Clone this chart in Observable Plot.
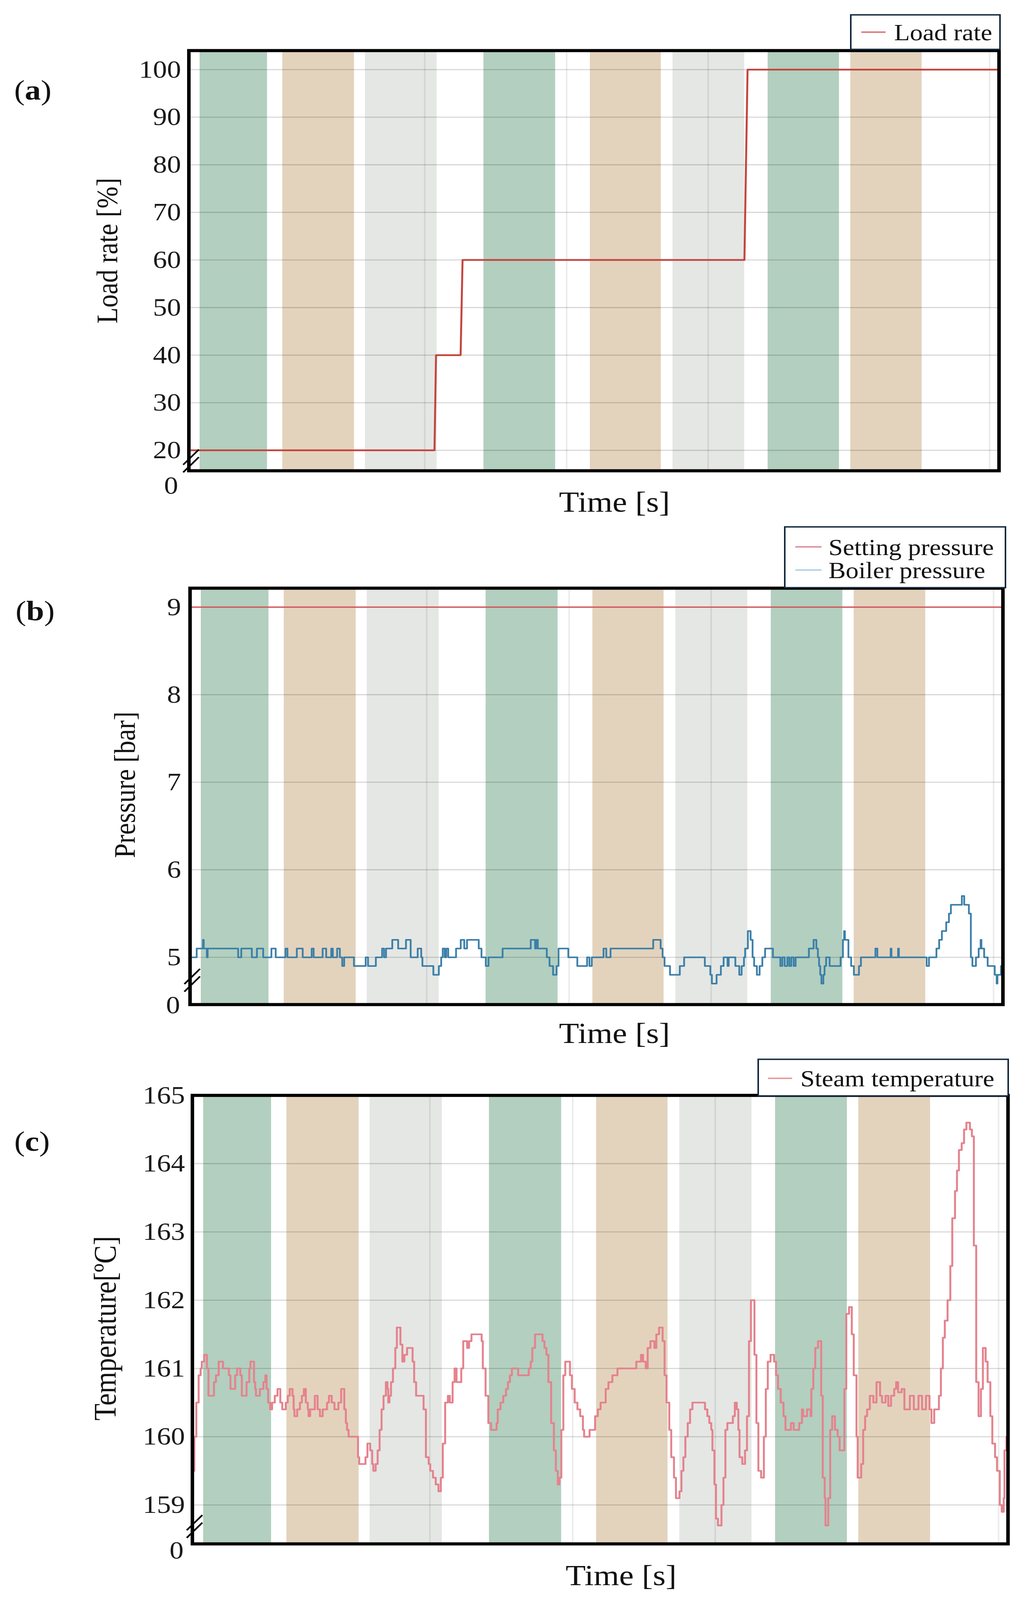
<!DOCTYPE html>
<html><head><meta charset="utf-8">
<script src="https://cdn.jsdelivr.net/npm/d3@7"></script>
<script src="https://cdn.jsdelivr.net/npm/@observablehq/plot@0.6"></script>
<style>
html,body{margin:0;background:#fff;overflow:hidden;}
#fig{width:2624px;transform-origin:0 0;}
#fig svg{display:block;}
</style>
</head><body><div id="fig"></div>
<script>
// ---------- shared time axis & shaded bands ----------
const tMax = 2078;
const bandStart = [28, 240, 452, 756, 1029, 1241, 1485, 1697];
const bandEnd   = [201, 424, 636, 940, 1211, 1425, 1668, 1880];
const bandType  = ["green", "tan", "grey", "green", "tan", "grey", "green", "tan"];
const bandColor = {green: "#b3cfbf", tan: "#e3d3bd", grey: "#e5e7e4"};
const vlineT = [605, 969, 1332, 2054];

// ---------- panel (a) load rate ----------
const loadTicks = [20, 30, 40, 50, 60, 70, 80, 90, 100];
const loadT = [0, 630, 634, 697, 702, 1425, 1433, 2078];
const loadV = [20, 20, 40, 40, 60, 60, 100, 100];

// ---------- panel (b) pressure ----------
const pressureTicks = [5, 6, 7, 8, 9];
const settingPressure = [9];
const pressureT = [0,17,33,35,43,45,123,131,158,171,187,208,219,244,249,273,288,311,316,339,348,361,365,376,383,389,394,419,449,455,475,491,496,501,517,532,552,564,582,591,594,622,636,642,646,651,655,660,680,692,701,708,738,745,756,763,799,871,882,885,889,912,919,928,937,942,967,990,1015,1021,1027,1057,1064,1075,1184,1203,1208,1213,1227,1252,1263,1316,1330,1334,1346,1357,1364,1374,1377,1394,1404,1410,1416,1419,1426,1433,1438,1442,1449,1456,1463,1470,1490,1509,1514,1520,1527,1532,1537,1543,1548,1582,1594,1601,1605,1608,1611,1614,1619,1622,1626,1635,1663,1669,1672,1674,1683,1690,1697,1710,1715,1752,1757,1791,1793,1810,1812,1883,1889,1908,1915,1922,1933,1940,1945,1973,1979,1991,1996,2000,2009,2016,2021,2023,2030,2039,2057,2062,2064,2073,2078];
const pressureV = [5.0,5.1,5.2,5.1,5.0,5.1,5.0,5.1,5.0,5.1,5.0,5.1,5.0,5.1,5.0,5.1,5.0,5.1,5.0,5.1,5.0,5.1,5.0,5.1,5.0,4.9,5.0,4.9,5.0,4.9,5.0,5.1,5.0,5.1,5.2,5.1,5.2,5.0,5.1,5.0,4.9,4.8,4.9,5.0,5.1,5.0,5.1,5.0,5.1,5.2,5.1,5.2,5.1,5.0,4.9,5.0,5.1,5.2,5.1,5.2,5.1,5.0,4.9,4.8,4.9,5.1,5.0,4.9,5.0,4.9,5.0,5.1,5.0,5.1,5.2,5.1,5.0,4.9,4.8,4.9,5.0,4.9,4.8,4.7,4.8,4.9,5.0,4.9,5.0,4.9,4.8,4.9,5.0,5.1,5.3,5.2,5.0,4.9,4.8,4.9,5.0,5.1,5.0,4.9,5.0,4.9,5.0,4.9,5.0,4.9,5.0,5.1,5.2,5.1,5.0,4.9,4.8,4.7,4.8,4.9,5.0,4.9,5.0,5.2,5.3,5.2,5.0,4.9,4.8,4.9,5.0,5.1,5.0,5.1,5.0,5.1,5.0,4.9,5.0,5.1,5.2,5.3,5.4,5.5,5.6,5.7,5.6,5.5,5.0,4.9,5.0,5.1,5.2,5.1,5.0,4.9,4.8,4.7,4.8,4.9,4.9];

// ---------- panel (c) steam temperature ----------
const tempTicks = [159, 160, 161, 162, 163, 164, 165];
const tempT = [0,5,10,16,21,24,30,37,41,55,60,67,78,93,97,109,114,122,126,138,145,148,157,160,162,172,181,186,189,193,198,203,210,217,224,229,238,243,248,255,258,260,267,274,279,284,289,294,296,300,312,319,325,332,343,348,355,362,372,379,387,391,394,398,422,425,441,446,453,458,461,467,472,477,482,487,493,497,499,502,506,511,517,521,530,535,540,547,561,565,570,589,595,602,606,613,620,627,633,638,644,651,656,663,668,673,685,690,700,705,711,737,740,747,754,761,775,778,785,792,799,804,809,814,830,857,862,866,873,892,897,902,907,914,921,926,931,935,940,945,950,962,967,974,981,988,995,998,1012,1026,1033,1040,1053,1060,1070,1083,1131,1143,1148,1155,1160,1167,1177,1182,1189,1198,1203,1208,1215,1220,1227,1232,1241,1246,1251,1256,1262,1268,1274,1306,1312,1317,1322,1325,1330,1334,1339,1348,1353,1358,1363,1377,1382,1387,1391,1394,1401,1408,1413,1418,1423,1432,1437,1442,1449,1456,1461,1466,1473,1482,1487,1492,1499,1506,1511,1525,1532,1546,1553,1556,1566,1575,1577,1582,1587,1594,1602,1606,1611,1613,1620,1625,1630,1637,1644,1649,1661,1666,1673,1680,1685,1692,1695,1704,1709,1714,1719,1726,1735,1743,1752,1757,1766,1773,1780,1788,1793,1798,1807,1814,1828,1838,1850,1859,1869,1878,1883,1890,1902,1907,1912,1917,1924,1931,1936,1943,1948,1953,1960,1966,1972,1981,1986,1991,1997,2003,2009,2014,2021,2026,2033,2038,2045,2050,2057,2062,2067,2069,2074,2078];
const tempV = [159.5,160.0,160.5,160.9,161.0,161.1,161.2,161.0,160.6,160.8,160.9,161.1,161.0,160.9,160.7,160.9,161.0,160.9,160.6,160.8,161.0,161.1,160.8,160.7,160.6,160.7,160.8,160.9,160.7,160.5,160.4,160.5,160.6,160.7,160.5,160.4,160.5,160.6,160.7,160.6,160.4,160.3,160.4,160.5,160.6,160.7,160.5,160.4,160.3,160.4,160.6,160.4,160.3,160.4,160.5,160.6,160.5,160.4,160.5,160.7,160.4,160.2,160.1,160.0,159.7,159.6,159.7,159.9,159.8,159.6,159.5,159.6,159.8,160.1,160.4,160.6,160.8,160.7,160.5,160.6,160.8,161.0,161.3,161.6,161.35,161.1,161.2,161.3,161.1,160.8,160.6,160.4,159.7,159.6,159.5,159.4,159.3,159.2,159.4,159.9,160.5,160.6,160.5,160.8,161.0,160.8,161.0,161.4,161.3,161.4,161.5,161.4,161.0,160.6,160.2,160.1,160.2,160.4,160.5,160.6,160.7,160.8,160.9,161.0,160.9,161.0,161.1,161.3,161.5,161.4,161.3,161.2,160.8,160.2,159.8,159.5,159.3,159.4,160.1,160.9,161.1,160.9,160.7,160.5,160.4,160.3,160.1,160.0,160.1,160.3,160.4,160.5,160.7,160.8,160.9,161.0,161.1,161.2,161.1,161.0,161.3,161.4,161.3,161.5,161.6,161.4,160.9,160.5,160.1,159.7,159.4,159.1,159.2,159.5,159.7,160.0,160.2,160.4,160.5,160.4,160.3,160.2,160.1,159.8,159.3,158.8,158.7,159.0,159.4,160.1,160.2,160.3,160.5,160.4,160.1,159.7,159.6,159.8,160.3,161.4,162.0,161.2,160.2,159.5,159.4,160.0,160.7,161.1,161.2,161.1,160.9,160.7,160.5,160.3,160.1,160.2,160.1,160.2,160.4,160.3,160.4,160.3,160.7,161.0,161.3,161.4,160.6,159.4,159.1,158.7,159.1,160.1,160.3,160.1,160.0,159.8,160.7,161.8,161.9,161.5,160.9,160.0,159.4,159.6,160.1,160.3,160.4,160.6,160.5,160.8,160.6,160.5,160.6,160.45,160.6,160.7,160.8,160.65,160.7,160.4,160.6,160.4,160.6,160.4,160.6,160.4,160.2,160.4,160.6,161.0,161.45,161.7,162.0,162.5,163.2,163.6,163.9,164.2,164.3,164.5,164.6,164.5,164.4,162.8,160.8,160.3,160.7,161.3,161.1,160.8,160.3,159.9,159.7,159.5,159.0,158.9,159.1,159.8,160.0,160.1];

// ---------- text ----------
const FONT = "'Liberation Serif', 'Times New Roman', serif";
const xLabel = "Time [s]";
const W = 2624, H = 4634;

function rows(ts, vs) { return ts.map((t, i) => ({t, v: vs[i]})); }

function addText(s, x, y, str, size, anchor) {
  return s.append("text").attr("x", x).attr("y", y).attr("text-anchor", anchor || "middle")
    .attr("dy", "0.35em").attr("font-size", size).attr("fill", "#111").attr("font-family", FONT).text(str);
}

function buildPanel(cfg) {
  const bands = bandStart.map((s, i) => ({start: s, end: bandEnd[i], fill: bandColor[bandType[i]]}));
  const [yLo, yHi] = cfg.yDomain;
  const svg = Plot.plot({
    width: W, height: cfg.height,
    marginLeft: cfg.mL, marginRight: cfg.mR, marginTop: cfg.mT, marginBottom: cfg.mB,
    x: {domain: [0, tMax], axis: null},
    y: {domain: cfg.yDomain, axis: null},
    color: {type: "identity"},
    style: {fontFamily: FONT, background: "white", overflow: "visible"},
    marks: [
      Plot.rect(bands, {x1: "start", x2: "end", y1: () => yLo, y2: () => yHi, fill: "fill"}),
      Plot.ruleX(vlineT, {stroke: "#000", strokeOpacity: 0.08, strokeWidth: 4}),
      Plot.gridY(cfg.ticks, {stroke: "#000", strokeOpacity: 0.17, strokeWidth: 3}),
      ...cfg.lines,
      Plot.axisY(cfg.ticks, {tickSize: 0, tickPadding: cfg.tickPad, fontSize: cfg.tickFont, fill: "#1a1a1a", label: null, tickFormat: d3.format("d")}),
      Plot.frame({stroke: "#000", strokeWidth: 9})
    ]
  });
  const s = d3.select(svg);
  const L = cfg.mL, B = cfg.height - cfg.mB;
  // axis break marks
  const cx = L + 6, cy = B + cfg.breakOff;
  [-11, 11].forEach(o => {
    s.append("line").attr("x1", cx - 20).attr("y1", cy + o + 22).attr("x2", cx + 20).attr("y2", cy + o - 22)
      .attr("stroke", "#000").attr("stroke-width", 4.5);
  });
  addText(s, cfg.zero[0], cfg.zero[1], "0", cfg.tickFont).attr("fill", "#1a1a1a");
  addText(s, cfg.xLab[0], cfg.xLab[1], xLabel, 84);
  s.append("text").attr("transform", `translate(${cfg.yLab[0]},${cfg.yLab[1]}) rotate(-90)`)
    .attr("text-anchor", "middle").attr("dy", "0.35em").attr("font-size", cfg.yLabFont)
    .attr("fill", "#111").attr("font-family", FONT).text(cfg.yLabel);
  const pl = addText(s, cfg.letterPos[0], cfg.letterPos[1], null, 82);
  pl.append("tspan").text("(");
  pl.append("tspan").attr("font-weight", "bold").text(cfg.letter);
  pl.append("tspan").text(")");
  // legend
  const lg = cfg.legend;
  s.append("rect").attr("x", lg.x).attr("y", lg.y).attr("width", lg.w).attr("height", lg.h)
    .attr("fill", "#fff").attr("stroke", "#13283d").attr("stroke-width", 4);
  lg.items.forEach((it, i) => {
    const yy = lg.rowY[i];
    s.append("line").attr("x1", lg.sw[0]).attr("x2", lg.sw[1]).attr("y1", yy).attr("y2", yy)
      .attr("stroke", it.color).attr("stroke-width", 4);
    addText(s, lg.tx, yy, it.label, 66, "start");
  });
  return svg;
}

const fig = document.getElementById("fig");

fig.appendChild(buildPanel({
  height: 1500, mL: 483, mR: 67, mT: 146, mB: 137,
  yDomain: [15.7, 104], ticks: loadTicks, tickPad: 20, tickFont: 72,
  lines: [Plot.line(rows(loadT, loadV), {x: "t", y: "v", stroke: "#c2463f", strokeWidth: 5, clip: true})],
  breakOff: -28, zero: [438, 1405], xLab: [1573, 1453],
  yLab: [273, 726], yLabel: "Load rate [%]", yLabFont: 76,
  letter: "a", letterPos: [84, 260],
  legend: {x: 2178, y: 43, w: 382, h: 100, rowY: [93], sw: [2205, 2267], tx: 2289,
           items: [{label: "Load rate", color: "#d9706e"}]}
}));

fig.appendChild(buildPanel({
  height: 1550, mL: 486, mR: 57, mT: 203, mB: 141,
  yDomain: [4.46, 9.217], ticks: pressureTicks, tickPad: 23, tickFont: 72,
  lines: [
    Plot.ruleY(settingPressure, {stroke: "#d05a5e", strokeWidth: 4}),
    Plot.line(rows(pressureT, pressureV), {x: "t", y: "v", curve: "step-after", stroke: "#3b7fa8", strokeWidth: 4.5, clip: true})
  ],
  breakOff: -70, zero: [443, 1409], xLab: [1573, 1491],
  yLab: [318, 773], yLabel: "Pressure [bar]", yLabFont: 76,
  letter: "b", letterPos: [90, 268],
  legend: {x: 2009, y: 26, w: 565, h: 176, rowY: [84, 151], sw: [2036, 2103], tx: 2121,
           items: [{label: "Setting pressure", color: "#d98a90"}, {label: "Boiler pressure", color: "#a8d0e6"}]}
}));

fig.appendChild(buildPanel({
  height: 1584, mL: 492, mR: 44, mT: 122, mB: 163,
  yDomain: [158.43, 165], ticks: tempTicks, tickPad: 19, tickFont: 72,
  lines: [Plot.line(rows(tempT, tempV), {x: "t", y: "v", curve: "step-after", stroke: "#e4838e", strokeWidth: 5, clip: true})],
  breakOff: -50, zero: [452, 1439], xLab: [1590, 1512],
  yLab: [268, 797], yLabel: "Temperature[ºC]", yLabFont: 80,
  letter: "c", letterPos: [82, 254],
  legend: {x: 1941, y: 18, w: 640, h: 106, rowY: [73], sw: [1966, 2028], tx: 2049,
           items: [{label: "Steam temperature", color: "#e8939a"}]}
}));

// The browser viewport may be shorter than the figure: squeeze vertically so the whole figure is photographed.
const k = Math.min(1, (window.innerHeight || H) / H);
if (k < 1) fig.style.transform = `scale(1, ${k})`;
</script></body></html>
